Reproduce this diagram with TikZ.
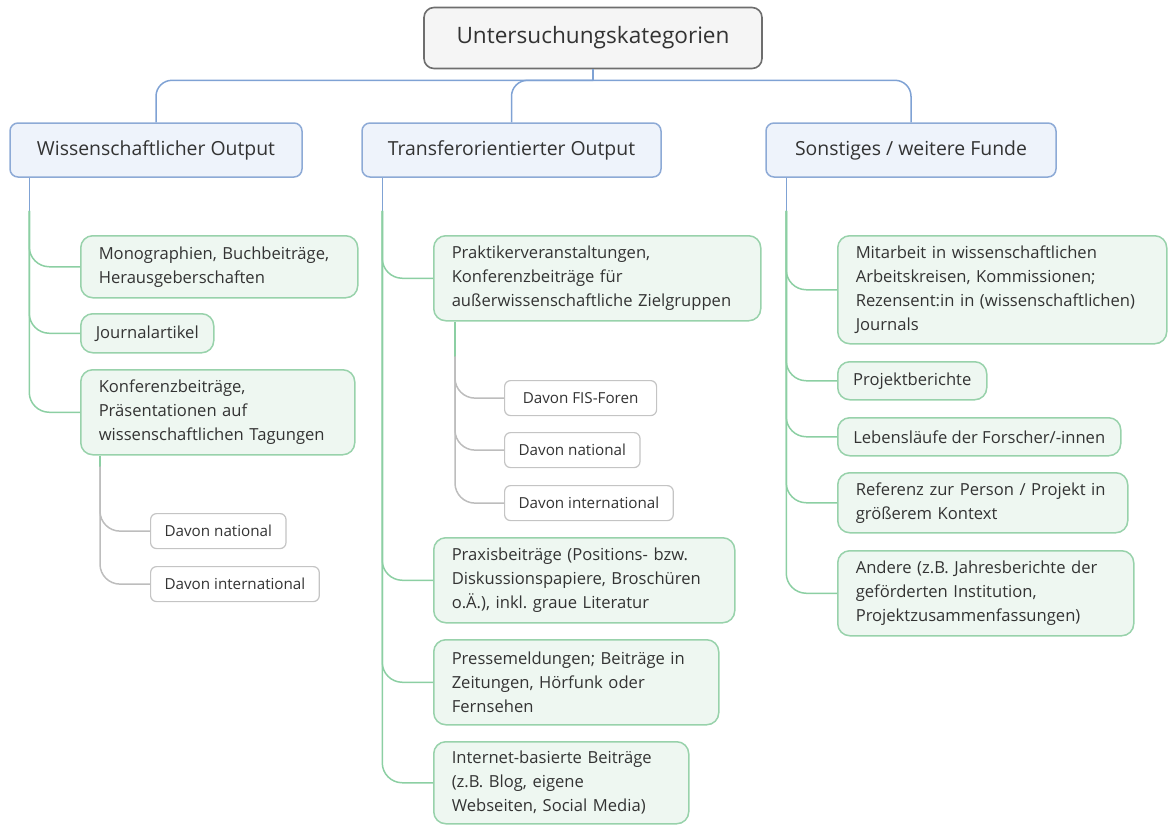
\documentclass[tikz,border=0pt]{standalone}
\usepackage{fontspec}
\setmainfont{Open Sans}
\usetikzlibrary{positioning,calc}
\frenchspacing

\definecolor{txtgray}{HTML}{333333}
\definecolor{rootfill}{HTML}{F5F5F5}
\definecolor{rootdraw}{HTML}{6E6E6E}
\definecolor{catfill}{HTML}{EEF3FB}
\definecolor{catdraw}{HTML}{8DAAD6}
\definecolor{leaffill}{HTML}{EEF7F1}
\definecolor{leafdraw}{HTML}{98D2AB}
\definecolor{subdraw}{HTML}{C4C4C4}
\definecolor{linkblue}{HTML}{7FA2D4}
\definecolor{linkgreen}{HTML}{8CCFA3}
\definecolor{linkgray}{HTML}{BDBDBD}

\begin{document}
\begin{tikzpicture}[
    x=0.5pt, y=-0.5pt,
    every node/.style={text=txtgray},
    rootbox/.style={rectangle, draw=rootdraw, fill=rootfill, rounded corners=5pt, line width=0.8pt, minimum width=169pt, minimum height=30.5pt, font=\fontsize{11.3}{14}\selectfont},
    catbox/.style={rectangle, draw=catdraw, fill=catfill, rounded corners=4pt, line width=0.75pt, minimum height=27pt, font=\fontsize{9.7}{12}\selectfont},
    leafbox/.style={rectangle, draw=leafdraw, fill=leaffill, rounded corners=6pt, line width=0.75pt, anchor=north west, align=left, inner xsep=9pt, font=\fontsize{8.3}{12}\selectfont},
    shortleaf/.style={leafbox, inner xsep=7.5pt},
    subbox/.style={rectangle, draw=subdraw, fill=white, rounded corners=3pt, line width=0.6pt, anchor=north west, inner xsep=7pt, minimum height=17.5pt, font=\fontsize{7.6}{10}\selectfont},
    bline/.style={draw=linkblue, line width=0.75pt, rounded corners=8pt},
    gline/.style={draw=linkgreen, line width=0.75pt, rounded corners=10pt},
    sline/.style={draw=linkgray, line width=0.75pt, rounded corners=10pt},
]
\useasboundingbox (0,0) rectangle (1168,825);

% ====== Root and categories ======
\node[rootbox] (root) at (593,38) {Untersuchungskategorien};
\node[catbox, minimum width=146pt] (wiss) at (156,150) {Wissenschaftlicher Output};
\node[catbox, minimum width=149.5pt] (trans) at (511.5,150) {Transferorientierter Output};
\node[catbox, minimum width=145pt] (sonst) at (911,150) {Sonstiges / weitere Funde};

% ====== Wissenschaftlicher Output ======
\node[leafbox, minimum width=138.5pt, text width=120.5pt, minimum height=31pt] (mono) at (80,235) {Monographien, Buchbeiträge,\\Herausgeberschaften};
\node[shortleaf, minimum width=66.5pt, minimum height=19.5pt] (journal) at (80,313) {Journalartikel};
\node[leafbox, minimum width=137pt, text width=119pt, minimum height=42.5pt] (konf) at (80,369) {Konferenzbeiträge,\\Präsentationen auf\\wissenschaftlichen Tagungen};
\node[subbox, minimum width=67.5pt] (wnat) at (150,513) {Davon national};
\node[subbox, minimum width=84pt] (wint) at (150,566) {Davon international};

% ====== Transferorientierter Output ======
\node[leafbox, minimum width=163.5pt, text width=145.5pt, minimum height=42.5pt] (prak) at (433,235) {Praktikerveranstaltungen,\\Konferenzbeiträge für\\außerwissenschaftliche Zielgruppen};
\node[subbox, minimum width=76pt] (fis) at (504,380) {Davon FIS-Foren};
\node[subbox, minimum width=67pt] (tnat) at (504,432) {Davon national};
\node[subbox, minimum width=84pt] (tint) at (504,485) {Davon international};
\node[leafbox, minimum width=150.5pt, text width=132.5pt, minimum height=42.5pt] (praxis) at (433,537) {Praxisbeiträge (Positions- bzw.\\Diskussionspapiere, Broschüren\\o.Ä.), inkl. graue Literatur};
\node[leafbox, minimum width=142.5pt, text width=124.5pt, minimum height=42.5pt] (presse) at (433,639) {Pressemeldungen; Beiträge in\\Zeitungen, Hörfunk oder\\Fernsehen};
\node[leafbox, minimum width=127.5pt, text width=109.5pt, minimum height=41pt] (internet) at (433,741) {Internet-basierte Beiträge\\(z.B. Blog, eigene\\Webseiten, Social Media)};

% ====== Sonstiges / weitere Funde ======
\node[leafbox, minimum width=164.5pt, text width=146.5pt, minimum height=54pt] (mitarbeit) at (837,235) {Mitarbeit in wissenschaftlichen\\Arbeitskreisen, Kommissionen;\\Rezensent:in in (wissenschaftlichen)\\Journals};
\node[shortleaf, minimum width=74.5pt, minimum height=19pt] (projekt) at (837,361) {Projektberichte};
\node[shortleaf, minimum width=141.5pt, minimum height=19pt] (leben) at (837,417) {Lebensläufe der Forscher/-innen};
\node[leafbox, minimum width=145pt, text width=127pt, minimum height=30pt] (referenz) at (837,472) {Referenz zur Person / Projekt in\\größerem Kontext};
\node[leafbox, minimum width=148pt, text width=130pt, minimum height=42.5pt] (andere) at (837,550) {Andere (z.B. Jahresberichte der\\geförderten Institution,\\Projektzusammenfassungen)};

% ====== Connectors ======
\draw[bline] (root.south) -- ++(0,11) coordinate (hub);
\draw[bline] (hub) -| (wiss.north);
\draw[bline] (hub) -| (trans.north);
\draw[bline] (hub) -| (sonst.north);

\draw[bline] ([xshift=10pt]wiss.south west) -- ++(0,33) coordinate (wtrunk);
\draw[gline] (wtrunk) |- (mono.west);
\draw[gline] (wtrunk) |- (journal.west);
\draw[gline] (wtrunk) |- (konf.west);
\draw[gline] ([xshift=10pt]konf.south west) -- ++(0,11) coordinate (ktrunk);
\draw[sline] (ktrunk) |- (wnat.west);
\draw[sline] (ktrunk) |- (wint.west);

\draw[bline] ([xshift=10.5pt]trans.south west) -- ++(0,33) coordinate (ttrunk);
\draw[gline] (ttrunk) |- (prak.west);
\draw[gline] (ttrunk) |- (praxis.west);
\draw[gline] (ttrunk) |- (presse.west);
\draw[gline] (ttrunk) |- (internet.west);
\draw[gline] ([xshift=11pt]prak.south west) -- ++(0,35) coordinate (ptrunk);
\draw[sline] (ptrunk) |- (fis.west);
\draw[sline] (ptrunk) |- (tnat.west);
\draw[sline] (ptrunk) |- (tint.west);

\draw[bline] ([xshift=10.5pt]sonst.south west) -- ++(0,33) coordinate (strunk);
\draw[gline] (strunk) |- (mitarbeit.west);
\draw[gline] (strunk) |- (projekt.west);
\draw[gline] (strunk) |- (leben.west);
\draw[gline] (strunk) |- (referenz.west);
\draw[gline] (strunk) |- (andere.west);

\end{tikzpicture}
\end{document}
